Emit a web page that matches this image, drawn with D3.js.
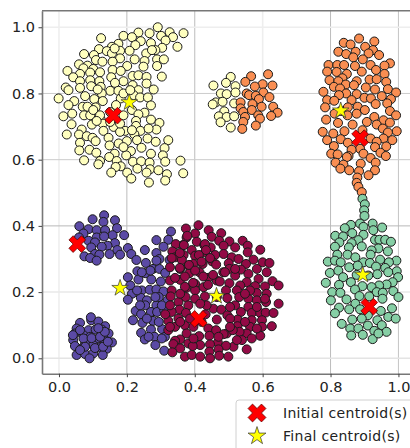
<!DOCTYPE html>
<html><head><meta charset="utf-8">
<script src="https://cdn.jsdelivr.net/npm/d3@7"></script>
<style>html,body{margin:0;padding:0;background:#fff;overflow:hidden}svg{display:block}text{font-family:"DejaVu Sans",sans-serif}</style>
</head><body><div id="c"></div>
<script>
const tickValues = [0, 0.2, 0.4, 0.6, 0.8, 1.0];
const clusterCream = [[.291,1.0],[.367,.982],[.326,.985],[.267,.982],[.234,.984],[.19,.974],[.215,.97],[.301,.974],[.336,.97],[.124,.967],[.314,.96],[.241,.958],[.175,.95],[.225,.946],[.271,.952],[.349,.941],[.304,.938],[.284,.931],[.118,.934],[.208,.929],[.156,.941],[.141,.928],[.18,.929],[.257,.921],[.074,.919],[.103,.916],[.156,.921],[.109,.901],[.128,.896],[.18,.906],[.223,.903],[.289,.903],[.309,.903],[.252,.898],[.059,.888],[.084,.884],[.158,.896],[.201,.883],[.289,.883],[.249,.881],[.025,.868],[.072,.876],[.101,.874],[.158,.871],[.182,.868],[.121,.864],[.062,.859],[.092,.863],[.042,.849],[.217,.853],[.234,.855],[.258,.85],[.303,.851],[.154,.849],[.092,.84],[.062,.837],[.119,.837],[.19,.837],[.165,.832],[.258,.83],[.217,.825],[.02,.818],[.095,.822],[.062,.817],[.123,.82],[.028,.81],[.279,.812],[.234,.81],[.151,.808],[.175,.808],[.126,.8],[.22,.795],[.077,.792],[.239,.788],[.262,.788],[-.001,.785],[.104,.783],[.182,.785],[.045,.777],[.129,.777],[.07,.76],[.028,.765],[.084,.76],[.108,.758],[.271,.764],[.168,.765],[.151,.744],[.215,.75],[.039,.739],[.252,.742],[.234,.737],[.074,.734],[.092,.734],[.19,.734],[.013,.731],[.123,.721],[.271,.721],[.227,.717],[.037,.707],[.097,.706],[.129,.709],[.296,.711],[.227,.702],[.161,.699],[.067,.691],[.287,.691],[.195,.687],[.24,.687],[.18,.684],[.131,.687],[.023,.676],[.059,.676],[.082,.671],[.099,.666],[.222,.677],[.261,.664],[.146,.666],[.322,.659],[.108,.656],[.23,.659],[.062,.651],[.2,.656],[.176,.649],[.285,.654],[.149,.643],[.243,.636],[.311,.635],[.06,.628],[.09,.63],[.212,.626],[.11,.621],[.271,.618],[.164,.618],[.306,.613],[.198,.613],[.148,.608],[.074,.598],[.358,.597],[.17,.596],[.218,.594],[.121,.596],[.242,.595],[.313,.594],[.267,.591],[.116,.586],[.182,.58],[.167,.578],[.231,.573],[.268,.571],[.293,.568],[.154,.561],[.201,.561],[.258,.561],[.366,.559],[.318,.556],[.213,.543],[.313,.537],[.265,.531],
[.114,.812],[.101,.75],[.121,.734],[.19,.8],[.21,.81],[.274,.931],[.164,.936],[.111,.717],[.151,.714],[.18,.709],[.215,.689],[.19,.638],[.264,.694],
[.506,.85],[.455,.824],[.492,.832],[.52,.822],[.477,.8],[.494,.798],[.52,.803],[.462,.773],[.453,.767],[.482,.775],[.516,.77],[.487,.746],[.471,.731],[.494,.729],[.516,.731],[.476,.713],[.506,.697]];
const clusterOrange = [[.616,.858],[.566,.852],[.549,.835],[.6,.828],[.629,.824],[.577,.821],[.553,.8],[.56,.795],[.602,.803],[.58,.793],[.62,.789],[.589,.783],[.535,.773],[.57,.768],[.535,.755],[.597,.76],[.631,.76],[.568,.75],[.543,.744],[.644,.742],[.587,.734],[.625,.732],[.548,.729],[.592,.724],[.543,.714],[.58,.703],[.54,.693],
[.884,.966],[.839,.953],[.859,.948],[.929,.957],[.902,.941],[.925,.931],[.823,.926],[.846,.919],[.874,.926],[.912,.921],[.943,.916],[.867,.909],[.895,.903],[.794,.886],[.82,.886],[.84,.886],[.872,.883],[.918,.886],[.975,.891],[.959,.884],[.79,.866],[.818,.865],[.892,.866],[.934,.871],[.959,.859],[.848,.859],[.835,.846],[.797,.84],[.823,.837],[.877,.837],[.915,.842],[.936,.843],[.964,.835],[.845,.827],[.81,.82],[.869,.825],[.828,.815],[.904,.818],[.931,.812],[.969,.813],[.779,.805],[.846,.8],[.877,.798],[.993,.803],[.825,.795],[.951,.792],[.9,.787],[.919,.785],[.862,.78],[.79,.78],[.811,.778],[.978,.783],[.933,.768],[.88,.76],[.784,.758],[.851,.758],[.967,.77],[.901,.75],[.83,.747],[.975,.747],[.812,.739],[.877,.739],[.85,.734],[.929,.729],[.993,.734],[.787,.721],[.822,.711],[.956,.719],[.907,.714],[.865,.706],[.936,.706],[.975,.712],[.777,.684],[.808,.679],[.841,.686],[.894,.689],[.954,.694],[.995,.686],[.969,.682],[.83,.662],[.79,.659],[.918,.664],[.956,.664],[.982,.659],[.851,.651],[.936,.654],[.81,.641],[.887,.633],[.964,.64],[.931,.638],[.802,.618],[.862,.63],[.821,.616],[.947,.621],[.963,.611],[.853,.611],[.897,.618],[.918,.605],[.815,.591],[.848,.608],[.933,.591],[.838,.585],[.889,.588],[.829,.573],[.855,.568],[.884,.565],[.931,.568],[.912,.553],[.879,.546],[.877,.53],[.882,.518],[.892,.502]];
const clusterGreen = [[.894,.482],[.901,.465],[.899,.447],[.9,.43],[.924,.407],[.887,.407],[.86,.403],[.897,.397],[.952,.395],[.842,.393],[.926,.387],[.864,.378],[.814,.37],[.837,.368],[.897,.373],[.882,.357],[.931,.358],[.944,.358],[.961,.358],[.978,.352],[.826,.35],[.862,.348],[.941,.332],[.813,.337],[.854,.335],[.892,.338],[.969,.323],[.921,.326],[.82,.313],[.85,.313],[.873,.305],[.918,.313],[.792,.292],[.813,.295],[.83,.29],[.897,.29],[.946,.298],[.994,.295],[.972,.29],[.855,.275],[.88,.28],[.916,.288],[.934,.277],[.961,.273],[.798,.258],[.823,.265],[.995,.263],[.97,.26],[.938,.254],[.837,.245],[.877,.252],[.911,.25],[.999,.245],[.786,.228],[.825,.222],[.86,.23],[.983,.23],[.965,.223],[.943,.22],[.921,.215],[.894,.218],[.872,.208],[.805,.2],[.829,.198],[.985,.203],[.936,.2],[.954,.198],[.885,.188],[.801,.175],[1.0,.185],[.914,.187],[.847,.178],[.953,.18],[.873,.165],[.825,.153],[.855,.148],[.887,.148],[.813,.136],[.948,.143],[.981,.151],[.91,.13],[.97,.125],[.992,.12],[.864,.117],[.892,.12],[.938,.115],[.833,.104],[.91,.099],[.951,.1],[.858,.09],[.882,.09],[.929,.083],[.965,.08],[.861,.069],[.895,.071],[.924,.058],[.941,.075]];
const clusterPurple = [[.133,.432],[.099,.42],[.165,.417],[.131,.412],[.06,.399],[.171,.393],[.087,.39],[.111,.387],[.136,.387],[.192,.372],[.072,.377],[.158,.372],[.111,.365],[.133,.368],[.059,.365],[.087,.355],[.106,.35],[.165,.348],[.143,.34],[.126,.337],[.095,.335],[.172,.327],[.106,.315],[.149,.315],[.18,.313],[.119,.313],[.075,.308],[.092,.303],[.111,.295],
[.33,.383],[.287,.357],[.322,.358],[.203,.333],[.253,.327],[.213,.315],[.287,.318],[.308,.337],[.296,.3],[.228,.297],[.256,.288],[.326,.297],[.231,.263],[.254,.257],[.277,.27],[.296,.27],[.313,.258],[.203,.245],[.272,.238],[.234,.238],[.3,.232],[.21,.22],[.244,.205],[.267,.207],[.287,.208],[.308,.202],[.215,.195],[.203,.177],[.241,.183],[.294,.185],[.32,.175],[.259,.175],[.254,.16],[.287,.16],[.226,.143],[.242,.133],[.271,.14],[.289,.14],[.31,.145],[.218,.115],[.246,.107],[.277,.113],[.304,.088],[.242,.077],[.271,.087],[.281,.065],[.312,.065],[.253,.057],[.284,.04],[.31,.023],
[.287,.295],[.269,.265],[.244,.26],[.23,.205],[.284,.185],[.239,.16],[.303,.16],[.259,.12],[.294,.11],[.264,.065],[.303,.06],
[.095,.115],[.062,.107],[.116,.111],[.136,.097],[.087,.085],[.108,.087],[.126,.087],[.146,.075],[.052,.09],[.047,.075],[.042,.055],[.072,.07],[.092,.065],[.116,.06],[.136,.055],[.156,.048],[.047,.037],[.077,.045],[.101,.04],[.141,.029],[.067,.03],[.121,.033],[.052,.01],[.077,.013],[.101,.015],[.09,0],[.129,.01],
[.094,.124],[.062,.085],[.072,.06],[.096,.061],[.121,.065],[.135,.08],[.116,.091],[.077,.035],[.106,.031],[.13,.035],[.144,.05],[.041,.07],[.062,.025]];
const clusterMaroon = [[.411,.402],[.374,.392],[.441,.387],[.478,.378],[.401,.377],[.45,.367],[.472,.355],[.376,.365],[.406,.352],[.365,.342],[.344,.345],[.428,.342],[.502,.353],[.541,.355],[.447,.335],[.391,.327],[.334,.323],[.485,.34],[.519,.335],[.556,.34],[.593,.328],[.367,.312],[.43,.32],[.485,.315],[.556,.32],[.342,.305],[.401,.31],[.46,.312],[.509,.305],[.529,.3],[.573,.298],[.362,.297],[.396,.285],[.423,.285],[.451,.293],[.5,.287],[.6,.29],[.62,.288],[.551,.285],[.327,.275],[.357,.27],[.381,.28],[.414,.26],[.463,.283],[.502,.27],[.536,.268],[.583,.27],[.612,.26],[.327,.235],[.384,.257],[.44,.243],[.465,.235],[.519,.25],[.558,.255],[.588,.24],[.629,.233],[.647,.22],[.357,.237],[.401,.225],[.502,.227],[.553,.23],[.578,.218],[.607,.217],[.332,.205],[.376,.213],[.426,.215],[.534,.22],[.492,.205],[.373,.185],[.401,.205],[.583,.197],[.612,.195],[.524,.205],[.329,.187],[.401,.18],[.43,.187],[.496,.182],[.558,.18],[.647,.165],[.352,.17],[.531,.185],[.583,.175],[.61,.17],[.519,.16],[.455,.15],[.478,.147],[.381,.16],[.558,.155],[.355,.147],[.332,.14],[.536,.14],[.568,.137],[.593,.137],[.609,.138],[.632,.137],[.432,.133],[.374,.137],[.496,.13],[.322,.113],[.352,.12],[.465,.117],[.526,.117],[.568,.115],[.313,.133],[.342,.095],[.371,.1],[.504,.12],[.598,.115],[.627,.097],[.322,.085],[.396,.095],[.44,.09],[.463,.085],[.526,.097],[.494,.075],[.563,.095],[.598,.095],[.413,.067],[.376,.075],[.553,.075],[.485,.073],[.357,.057],[.342,.053],[.593,.068],[.443,.068],[.532,.08],[.512,.085],[.468,.048],[.568,.06],[.539,.055],[.381,.045],[.337,.043],[.416,.04],[.514,.035],[.492,.038],[.445,.042],[.357,.03],[.394,.037],[.553,.027],[.334,.018],[.47,.027],[.443,.02],[.371,.005],[.391,.01],[.416,.005],[.445,0],[.472,.008],[.499,.005],
[.378,.37],[.368,.342],[.43,.345],[.356,.318],[.433,.327],[.412,.312],[.332,.303],[.445,.303],[.356,.273],[.383,.282],[.42,.292],[.401,.265],[.454,.252],[.425,.247],[.371,.247],[.342,.243],[.484,.26],[.395,.228],[.371,.216],[.439,.222],[.474,.232],
[.519,.27],[.489,.26],[.563,.205],[.607,.18],[.548,.195],[.435,.16],[.416,.165],[.357,.195],[.465,.185],[.504,.155],[.583,.155],[.548,.11],[.504,.095],[.42,.11],[.386,.12],[.357,.11],[.47,.065],[.396,.06],[.524,.055],[.583,.09],[.327,.095],[.327,.16]];
const initialCentroids = [[.16,.733],[.887,.665],[.054,.345],[.412,.119],[.914,.156]];
const finalCentroids = [[.207,.773],[.83,.748],[.18,.212],[.464,.188],[.895,.252]];
const legendLabels = ["Initial centroid(s)", "Final centroid(s)"];
const seriesColors = ["#ffffbf", "#5b4aa5", "#920a45", "#f98e52", "#86cfa5"];

const W = 410, H = 448;
const x = d3.scaleLinear().domain([-0.05, 1.05]).range([42, 415.4]);
const y = d3.scaleLinear().domain([-0.0465, 1.05]).range([373.7, 10.7]);
const svg = d3.select("#c").append("svg").attr("width", W).attr("height", H);

// grid
svg.append("g").selectAll("line").data(tickValues).join("line")
  .attr("x1", d => x(d)).attr("x2", d => x(d)).attr("y1", y.range()[1]).attr("y2", y.range()[0])
  .attr("stroke", (d, i) => ["#eeeeee", "#bcbcbc", "#bcbcbc", "#eeeeee", "#bcbcbc", "#c4c4c4"][i])
  .attr("stroke-width", (d, i) => [1.6, 1, 1, 1.6, 1, 1][i]);
svg.append("g").selectAll("line").data(tickValues).join("line")
  .attr("y1", d => y(d)).attr("y2", d => y(d)).attr("x1", x.range()[0]).attr("x2", W)
  .attr("stroke", (d, i) => ["#e4e4e4", "#e8e8e8", "#b8b8b8", "#cccccc", "#cccccc", "#eeeeee"][i])
  .attr("stroke-width", (d, i) => [1.5, 1.5, 1, 1, 1, 1.5][i]);

// points
[clusterCream, clusterPurple, clusterMaroon, clusterOrange, clusterGreen].forEach((pts, i) => {
  svg.append("g").selectAll("circle").data(pts).join("circle")
    .attr("cx", d => x(d[0])).attr("cy", d => y(d[1])).attr("r", 4.5)
    .attr("fill", seriesColors[i]).attr("stroke", "#1a1a1a").attr("stroke-width", 1);
});

// centroids
const crossPath = d3.symbol().type(d3.symbolCross).size(175)();
const starPath = d3.symbol().type(d3.symbolStar).size(85)();
svg.append("g").selectAll("path").data(initialCentroids).join("path")
  .attr("d", crossPath).attr("transform", d => `translate(${x(d[0])},${y(d[1])}) rotate(45)`)
  .attr("fill", "#ff0000").attr("stroke", "#5a0000").attr("stroke-width", 0.7);
svg.append("g").selectAll("path").data(finalCentroids).join("path")
  .attr("d", starPath).attr("transform", d => `translate(${x(d[0])},${y(d[1])})`)
  .attr("fill", "#ffff00").attr("stroke", "#333").attr("stroke-width", 0.7);

// axes
const fmt = d3.format(".1f");
const gx = svg.append("g").attr("transform", `translate(0,${y.range()[0]})`)
  .call(d3.axisBottom(x).tickValues(tickValues).tickFormat(fmt).tickSizeInner(3.5).tickSizeOuter(0).tickPadding(4.5));
const gy = svg.append("g").attr("transform", `translate(${x.range()[0]},0)`)
  .call(d3.axisLeft(y).tickValues(tickValues).tickFormat(fmt).tickSizeInner(3.5).tickSizeOuter(0).tickPadding(3.5));
[gx, gy].forEach(g => {
  g.selectAll("text").attr("font-size", 14.5).attr("fill", "#222").attr("font-family", '"DejaVu Sans",sans-serif');
  g.selectAll(".tick line").attr("stroke", "#444");
  g.select(".domain").attr("stroke", "#777").attr("stroke-width", 1.6);
});
svg.append("line").attr("x1", x.range()[0]).attr("x2", W).attr("y1", y.range()[1]).attr("y2", y.range()[1])
  .attr("stroke", "#777").attr("stroke-width", 1.6);

// legend
const leg = svg.append("g");
leg.append("rect").attr("x", 236).attr("y", 400).attr("width", 190).attr("height", 60).attr("rx", 3)
  .attr("fill", "#fff").attr("stroke", "#d0d0d0");
const legendRows = [413, 436];
leg.append("path").attr("d", d3.symbol().type(d3.symbolCross).size(200)())
  .attr("transform", `translate(257,${legendRows[0]}) rotate(45)`).attr("fill", "#ff0000").attr("stroke", "#5a0000").attr("stroke-width", 0.7);
leg.append("path").attr("d", d3.symbol().type(d3.symbolStar).size(100)())
  .attr("transform", `translate(257,${legendRows[1]})`).attr("fill", "#ffff00").attr("stroke", "#333").attr("stroke-width", 0.7);
leg.selectAll("text").data(legendLabels).join("text")
  .attr("x", 283).attr("y", (d, i) => legendRows[i] + 5).attr("font-size", 14).attr("letter-spacing", 0.3)
  .attr("fill", "#222").text(d => d);
</script></body></html>
